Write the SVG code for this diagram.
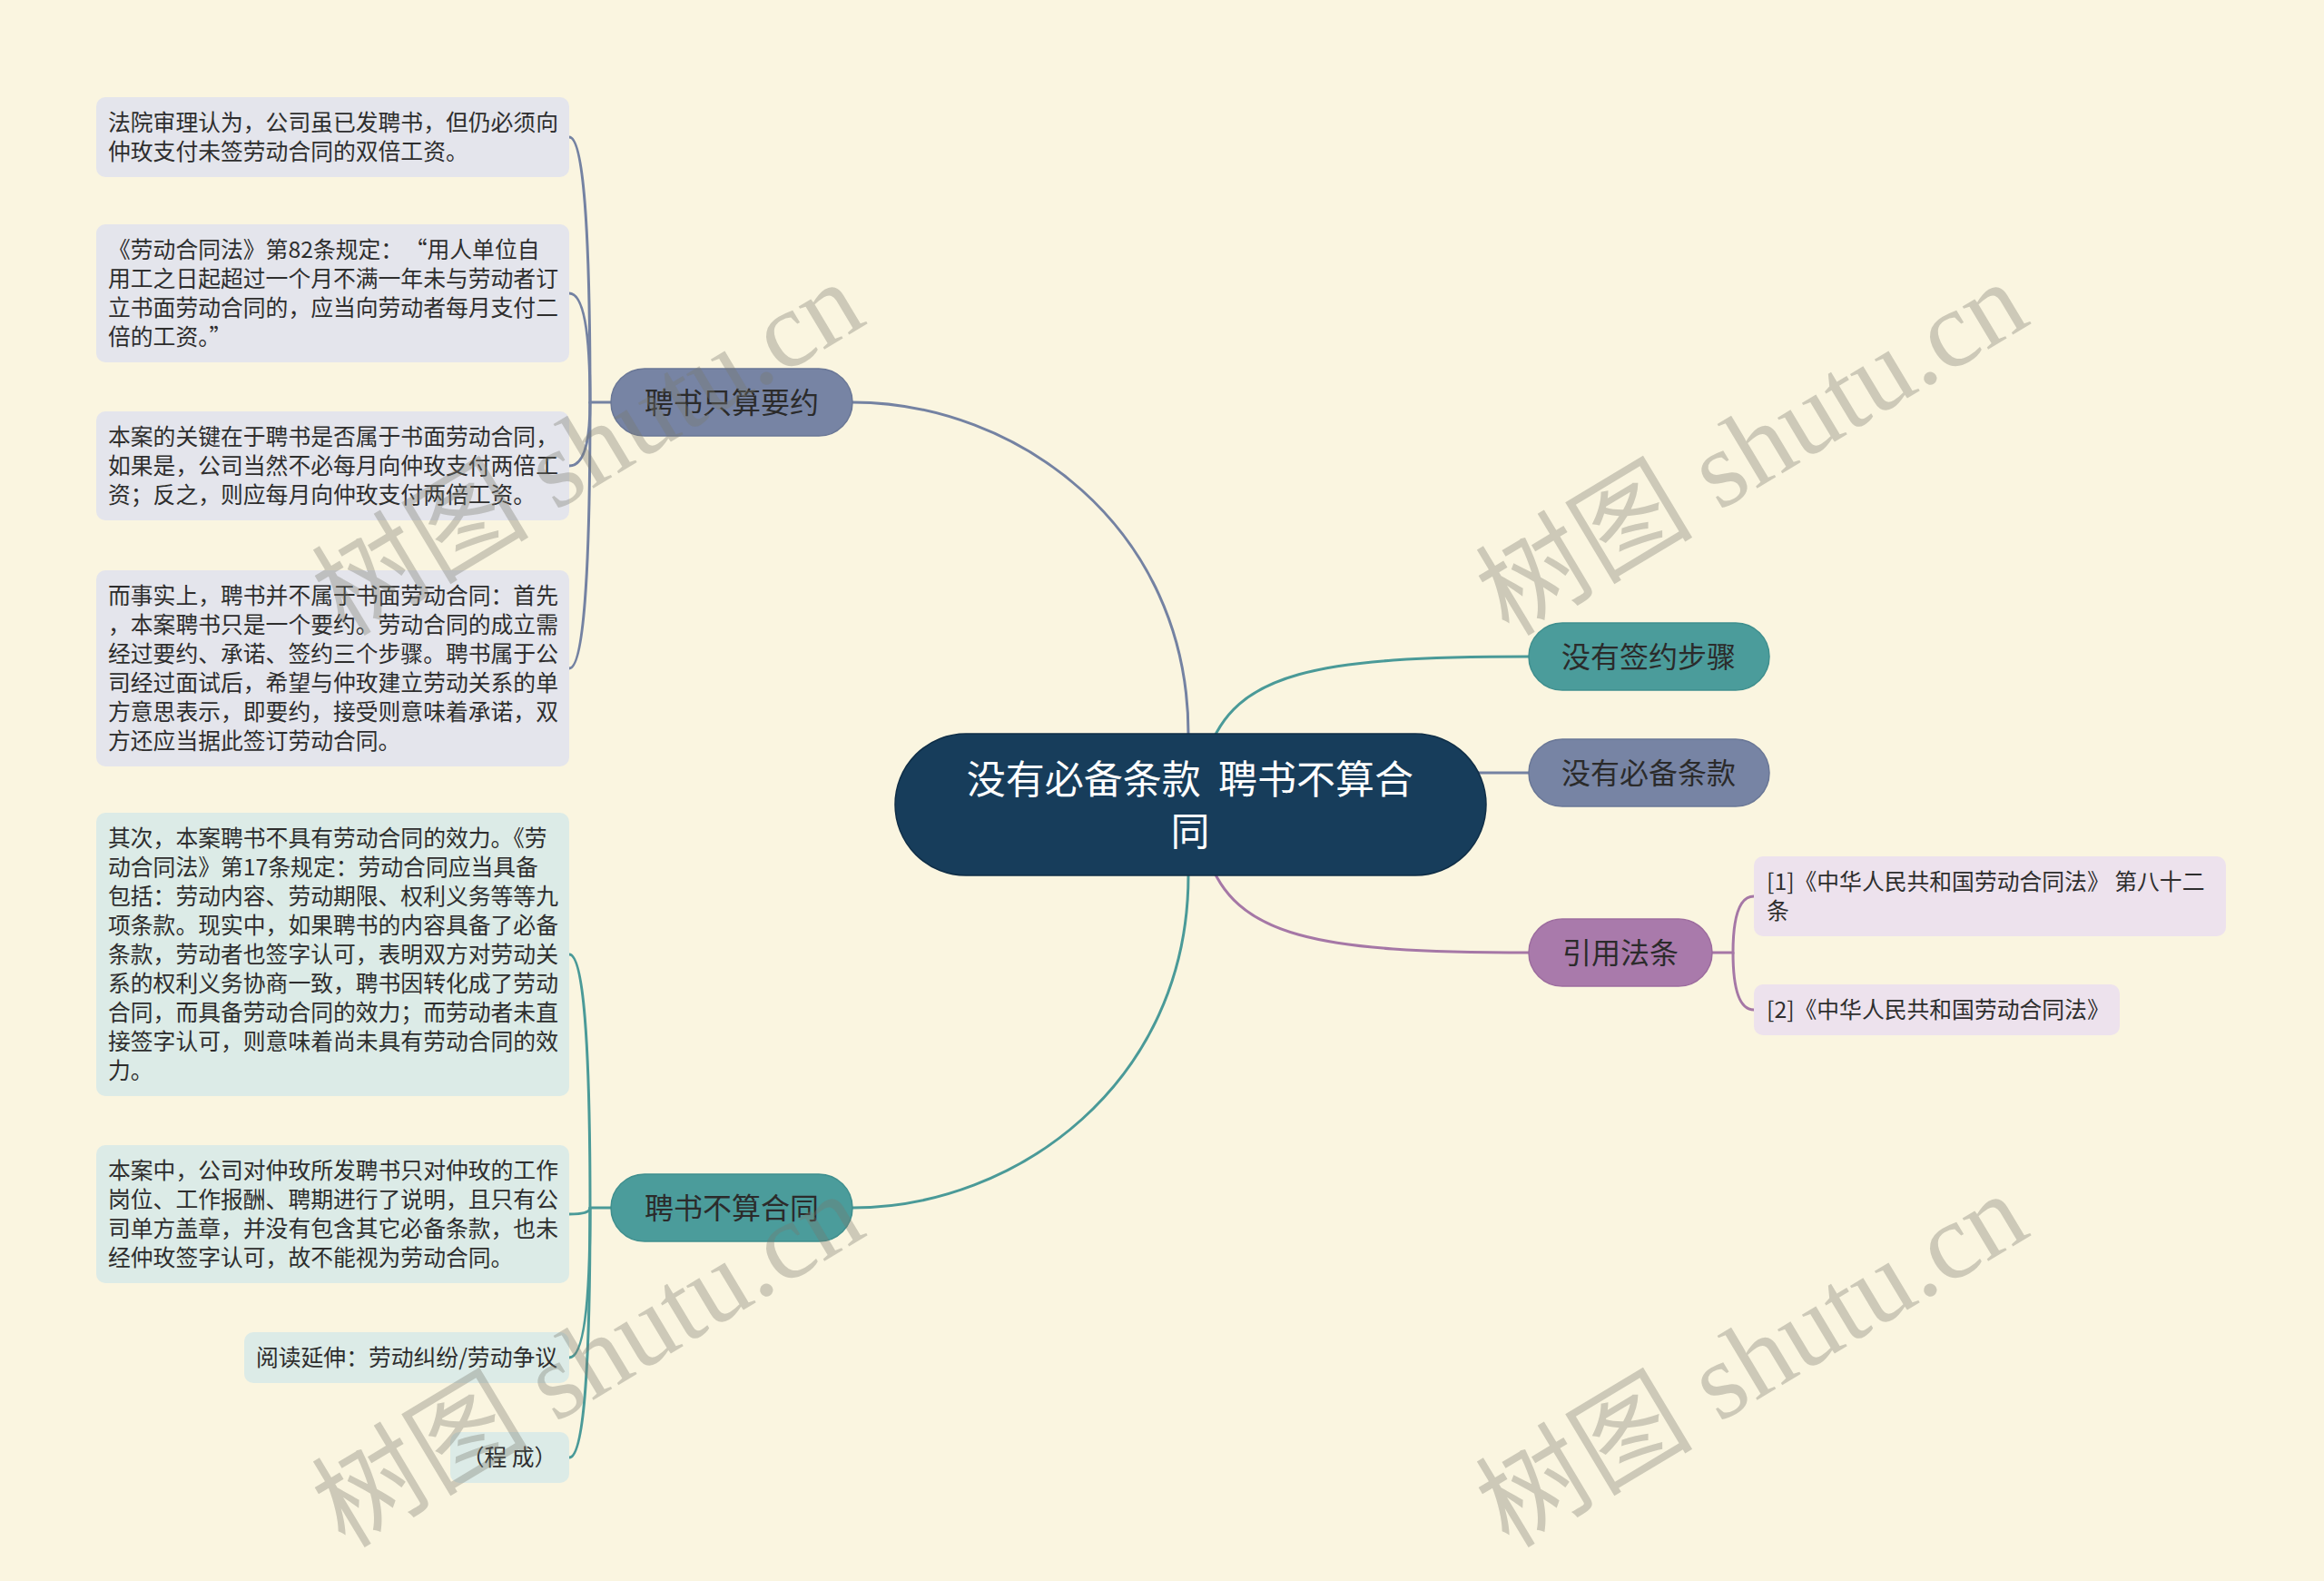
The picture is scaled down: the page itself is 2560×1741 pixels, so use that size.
<svg xmlns="http://www.w3.org/2000/svg" width="2560" height="1741" viewBox="0 0 2560 1741">
<style>
.t{font-family:"Noto Sans CJK SC","Noto Sans",sans-serif;}
.leaf{font-size:24.8px;fill:#2e2e2e;}
.main{font-size:32px;fill:#2b2b2b;text-anchor:middle;}
.ctr{font-size:43px;fill:#ffffff;text-anchor:middle;}
.c{fill:none;stroke-width:3;stroke-linecap:round;}
.cs{stroke:#7482a2;}
.ct{stroke:#4a9a98;}
.cp{stroke:#a577a6;}
.ls{fill:#e4e5ec;}
.lt{fill:#dcebe7;}
.lp{fill:#ede2ed;}
.ns{fill:#7784a4;stroke:#6a7796;stroke-width:1.5;}
.nt{fill:#4b9c9b;stroke:#3f8f8e;stroke-width:1.5;}
.np{fill:#a97aab;stroke:#9c6c9e;stroke-width:1.5;}
.wm{font-family:"Liberation Serif","Noto Sans CJK SC",serif;font-size:120px;fill:#78786e;fill-opacity:0.35;}
</style>
<rect x="0" y="0" width="2560" height="1741" fill="#faf5e0"/>

<g id="connectors">
  <path class="c cs" d="M1309 886 L1309 808 C1309 580 1120 443 939 443"/>
  <path class="c ct" d="M1309 886 L1309 964 C1309 1192 1120 1330 939 1330"/>
  <path class="c ct" d="M1330 830 C1360 740 1450 723 1685 723"/>
  <path class="c cs" d="M1600 851 L1685 851"/>
  <path class="c cp" d="M1330 942 C1360 1032 1450 1049 1685 1049"/>
  <path class="c cs" d="M673 443 L650 443 Q650 151 627 151"/>
  <path class="c cs" d="M650 443 Q650 323 627 323"/>
  <path class="c cs" d="M650 443 Q650 513 627 513"/>
  <path class="c cs" d="M650 443 Q650 736 627 736"/>
  <path class="c ct" d="M673 1330 L650 1330 Q650 1051 627 1051"/>
  <path class="c ct" d="M650 1330 Q650 1337 627 1337"/>
  <path class="c ct" d="M650 1330 Q650 1495 627 1495"/>
  <path class="c ct" d="M650 1330 Q650 1605 627 1605"/>
  <path class="c cp" d="M1886 1049 L1909 1049 Q1909 987 1932 987"/>
  <path class="c cp" d="M1909 1049 Q1909 1112 1932 1112"/>
</g>

<g id="center">
  <rect x="986" y="808" width="651" height="156" rx="78" fill="#173d5b" stroke="#0f2e47" stroke-width="1.5"/>
  <text class="t ctr" x="1311" y="874" xml:space="preserve">没有必备条款  聘书不算合</text>
  <text class="t ctr" x="1311" y="931">同</text>
</g>

<g id="branch-yaoyue">
  <rect class="ns" x="673" y="406" width="266" height="74" rx="37"/>
  <text class="t main" x="806" y="455">聘书只算要约</text>
</g>
<g id="branch-buhetong">
  <rect class="nt" x="673" y="1293" width="266" height="74" rx="37"/>
  <text class="t main" x="806" y="1342">聘书不算合同</text>
</g>
<g id="node-qianyue">
  <rect class="nt" x="1684" y="686" width="265" height="74" rx="37"/>
  <text class="t main" x="1816" y="735">没有签约步骤</text>
</g>
<g id="node-tiaokuan">
  <rect class="ns" x="1684" y="814" width="265" height="74" rx="37"/>
  <text class="t main" x="1816" y="863">没有必备条款</text>
</g>
<g id="node-fatiao">
  <rect class="np" x="1684" y="1012" width="202" height="74" rx="37"/>
  <text class="t main" x="1785" y="1061">引用法条</text>
</g>

<g id="leaf1">
  <rect class="ls" x="106" y="107" width="521" height="88" rx="10"/>
  <text class="t leaf" x="119" y="144">法院审理认为，公司虽已发聘书，但仍必须向<tspan x="119" dy="32">仲玫支付未签劳动合同的双倍工资。</tspan></text>
</g>
<g id="leaf2">
  <rect class="ls" x="106" y="247" width="521" height="152" rx="10"/>
  <text class="t leaf" x="119" y="284">《劳动合同法》第82条规定：<tspan dx="14">“</tspan>用人单位自<tspan x="119" dy="32">用工之日起超过一个月不满一年未与劳动者订</tspan><tspan x="119" dy="32">立书面劳动合同的，应当向劳动者每月支付二</tspan><tspan x="119" dy="32">倍的工资。”</tspan></text>
</g>
<g id="leaf3">
  <rect class="ls" x="106" y="453" width="521" height="120" rx="10"/>
  <text class="t leaf" x="119" y="490">本案的关键在于聘书是否属于书面劳动合同，<tspan x="119" dy="32">如果是，公司当然不必每月向仲玫支付两倍工</tspan><tspan x="119" dy="32">资；反之，则应每月向仲玫支付两倍工资。</tspan></text>
</g>
<g id="leaf4">
  <rect class="ls" x="106" y="628" width="521" height="216" rx="10"/>
  <text class="t leaf" x="119" y="665">而事实上，聘书并不属于书面劳动合同：首先<tspan x="119" dy="32">，本案聘书只是一个要约。劳动合同的成立需</tspan><tspan x="119" dy="32">经过要约、承诺、签约三个步骤。聘书属于公</tspan><tspan x="119" dy="32">司经过面试后，希望与仲玫建立劳动关系的单</tspan><tspan x="119" dy="32">方意思表示，即要约，接受则意味着承诺，双</tspan><tspan x="119" dy="32">方还应当据此签订劳动合同。</tspan></text>
</g>
<g id="leaf5">
  <rect class="lt" x="106" y="895" width="521" height="312" rx="10"/>
  <text class="t leaf" x="119" y="932">其次，本案聘书不具有劳动合同的效力。《劳<tspan x="119" dy="32">动合同法》第17条规定：劳动合同应当具备</tspan><tspan x="119" dy="32">包括：劳动内容、劳动期限、权利义务等等九</tspan><tspan x="119" dy="32">项条款。现实中，如果聘书的内容具备了必备</tspan><tspan x="119" dy="32">条款，劳动者也签字认可，表明双方对劳动关</tspan><tspan x="119" dy="32">系的权利义务协商一致，聘书因转化成了劳动</tspan><tspan x="119" dy="32">合同，而具备劳动合同的效力；而劳动者未直</tspan><tspan x="119" dy="32">接签字认可，则意味着尚未具有劳动合同的效</tspan><tspan x="119" dy="32">力。</tspan></text>
</g>
<g id="leaf6">
  <rect class="lt" x="106" y="1261" width="521" height="152" rx="10"/>
  <text class="t leaf" x="119" y="1298">本案中，公司对仲玫所发聘书只对仲玫的工作<tspan x="119" dy="32">岗位、工作报酬、聘期进行了说明，且只有公</tspan><tspan x="119" dy="32">司单方盖章，并没有包含其它必备条款，也未</tspan><tspan x="119" dy="32">经仲玫签字认可，故不能视为劳动合同。</tspan></text>
</g>
<g id="leaf7">
  <rect class="lt" x="269" y="1467" width="358" height="56" rx="10"/>
  <text class="t leaf" x="448" y="1504" text-anchor="middle">阅读延伸：劳动纠纷/劳动争议</text>
</g>
<g id="leaf8">
  <rect class="lt" x="496" y="1577" width="131" height="56" rx="10"/>
  <text class="t leaf" x="561" y="1614" text-anchor="middle" xml:space="preserve">（程 成）</text>
</g>
<g id="ref1">
  <rect class="lp" x="1932" y="943" width="520" height="88" rx="10"/>
  <text class="t leaf" x="1946" y="980" xml:space="preserve">[1]《中华人民共和国劳动合同法》 第八十二<tspan x="1946" dy="32">条</tspan></text>
</g>
<g id="ref2">
  <rect class="lp" x="1932" y="1084" width="403" height="56" rx="10"/>
  <text class="t leaf" x="1946" y="1121">[2]《中华人民共和国劳动合同法》</text>
</g>

<g id="watermarks">
  <text class="wm" transform="translate(380 702) rotate(-31)">树图 shutu.cn</text>
  <text class="wm" transform="translate(1662 702) rotate(-31)">树图 shutu.cn</text>
  <text class="wm" transform="translate(380 1706) rotate(-31)">树图 shutu.cn</text>
  <text class="wm" transform="translate(1662 1706) rotate(-31)">树图 shutu.cn</text>
</g>
</svg>
